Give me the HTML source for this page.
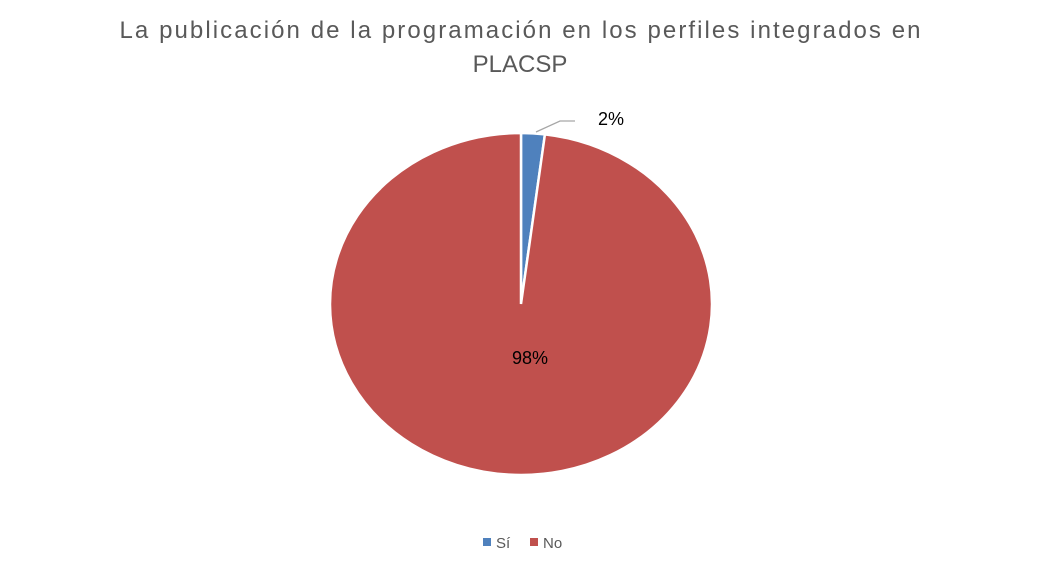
<!DOCTYPE html>
<html><head><meta charset="utf-8"><style>
body{margin:0;background:#fff;width:1039px;height:569px;overflow:hidden;font-family:"Liberation Sans",sans-serif}
</style></head><body>
<svg width="1039" height="569">
<text x="520" y="38" text-anchor="middle" font-size="24" fill="#595959" textLength="801" lengthAdjust="spacing">La publicación de la programación en los perfiles integrados en</text>
<text x="520" y="72" text-anchor="middle" font-size="24" fill="#595959">PLACSP</text>
<g id="pie"></g>
<polyline points="536,132 560,121 575,121" fill="none" stroke="#a6a6a6" stroke-width="1.3"/>
<g>
<rect x="483" y="538" width="8" height="8" fill="#4f81bd"/>
<text x="496" y="548" font-size="15" fill="#595959">Sí</text>
<rect x="530" y="538" width="8" height="8" fill="#c0504d"/>
<text x="543" y="548" font-size="15" fill="#595959">No</text>
</g>
</svg>
<script>
const categories=["Sí","No"];
const values=[2,98];
const colors=["#4f81bd","#c0504d"];
const cx=521,cy=304,rx=191,ry=171;
const g=document.getElementById('pie');
const total=values.reduce((a,b)=>a+b,0);
let a0=0;
values.forEach((v,i)=>{
  const a1=a0+v/total*2*Math.PI;
  const p=(a)=>[cx+rx*Math.sin(a),cy-ry*Math.cos(a)];
  const [x0,y0]=p(a0),[x1,y1]=p(a1);
  const large=(a1-a0)>Math.PI?1:0;
  const path=document.createElementNS('http://www.w3.org/2000/svg','path');
  path.setAttribute('d',`M${cx},${cy} L${x0},${y0} A${rx},${ry} 0 ${large} 1 ${x1},${y1} Z`);
  path.setAttribute('fill',colors[i]);
  path.setAttribute('stroke','#fff');
  path.setAttribute('stroke-width','2.5');
  
  
  g.appendChild(path);
  a0=a1;
});
const t1=document.createElementNS('http://www.w3.org/2000/svg','text');
t1.setAttribute('x','611');t1.setAttribute('y','125');t1.setAttribute('text-anchor','middle');
t1.setAttribute('font-size','18');t1.setAttribute('fill','#000');
t1.textContent=values[0]+'%';


g.parentNode.appendChild(t1);
const t2=document.createElementNS('http://www.w3.org/2000/svg','text');
t2.setAttribute('x','530');t2.setAttribute('y','364');t2.setAttribute('text-anchor','middle');
t2.setAttribute('font-size','18');t2.setAttribute('fill','#000');
t2.textContent=values[1]+'%';


g.parentNode.appendChild(t2);
</script>
</body></html>
